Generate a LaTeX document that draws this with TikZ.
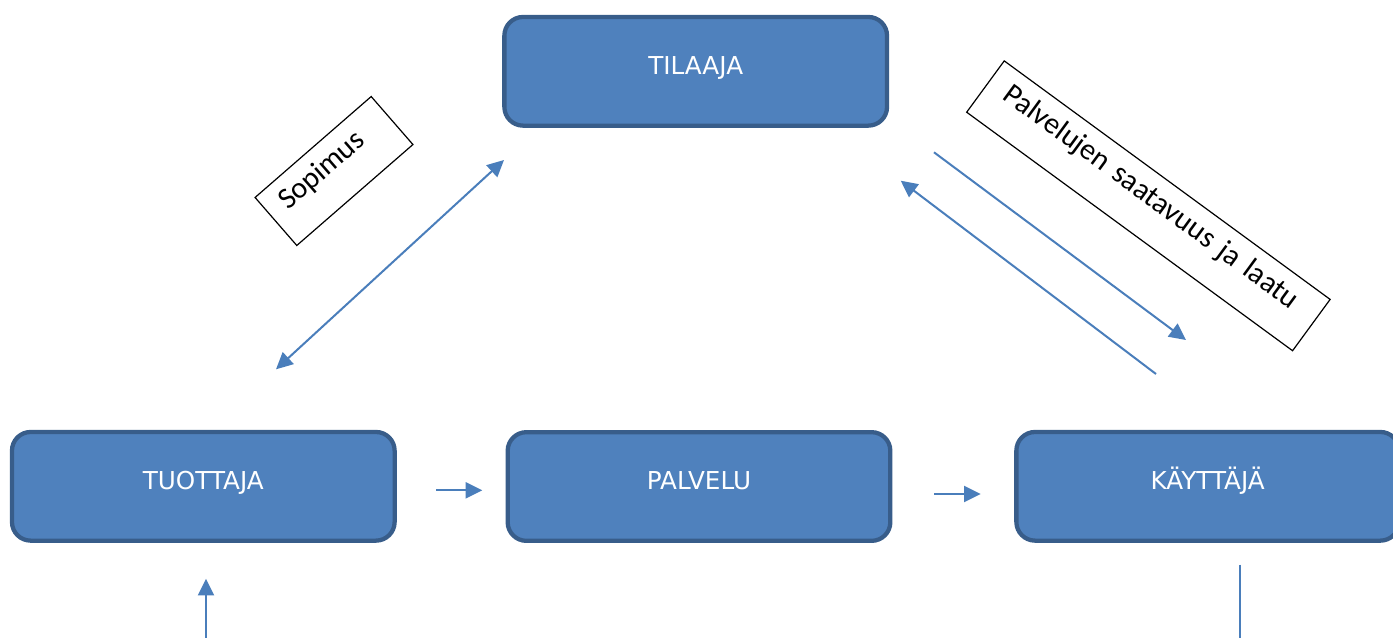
\documentclass[tikz,border=0pt]{standalone}
\usepackage{fontspec}
\setmainfont{DejaVu Sans}
\newfontfamily\selitefont{Carlito}
\usetikzlibrary{arrows.meta}

\definecolor{boxfill}{HTML}{4F81BD}
\definecolor{boxline}{HTML}{385D8A}
\definecolor{nuoliblue}{HTML}{4A7EBB}

\tikzset{
  osapuoli/.style={rectangle,rounded corners=14pt,draw=boxline,line width=3.2pt,fill=boxfill,text=white,
    font=\fontsize{18.5}{22}\selectfont,minimum width=287pt,minimum height=81.5pt,text height=13.5pt,text depth=9pt},
  selite/.style={rectangle,draw=black,line width=0.9pt,fill=white,text=black,align=left,
    font=\selitefont\fontsize{22.5}{26}\selectfont,minimum height=47.7pt,text height=0.6em,text depth=0.6em},
  nuoli/.style={draw=nuoliblue,line width=1.5pt},
  >={Triangle[length=12.5pt,width=12pt]}
}

\begin{document}
\begin{tikzpicture}[x=0.75pt,y=-0.75pt]
\useasboundingbox (0,0) rectangle (1393,637);
\clip (0,0) rectangle (1393,637);

\node[osapuoli] (tilaaja) at (695.7,71.3) {TILAAJA};
\node[osapuoli] (tuottaja) at (203.3,486.3) {TUOTTAJA};
\node[osapuoli] (palvelu) at (699,486.5) {PALVELU};
\node[osapuoli] (kayttaja) at (1207.7,486.3) {KÄYTTÄJÄ};

\node[selite,rotate=41,inner xsep=12pt,text width=91.4pt] (sopimus) at (334,171) {Sopimus};
\node[selite,rotate=-36.2,inner xsep=15pt,text width=272.9pt] (laatu) at (1148.4,205.8) {Palvelujen saatavuus ja laatu};

\coordinate (sopA) at (276,369.3);
\coordinate (sopB) at (504,160);
\coordinate (palA) at (1156,374);
\coordinate (palB) at (900.7,180.7);
\coordinate (palC) at (934,152.3);
\coordinate (palD) at (1186,340);
\coordinate (tuoA) at (436,490.3);
\coordinate (tuoB) at (482.3,490.3);
\coordinate (palvA) at (934.3,494);
\coordinate (palvB) at (980.7,494);
\coordinate (alaA) at (206,640);
\coordinate (alaB) at (206,578.7);
\coordinate (kayA) at (1240,564.5);
\coordinate (kayB) at (1240,640);

\draw[nuoli,<->] (sopA) -- (sopB);
\draw[nuoli,->] (palA) -- (palB);
\draw[nuoli,->] (palC) -- (palD);
\draw[nuoli,->] (tuoA) -- (tuoB);
\draw[nuoli,->] (palvA) -- (palvB);
\draw[nuoli,->] (alaA) -- (alaB);
\draw[nuoli] (kayA) -- (kayB);

\end{tikzpicture}
\end{document}
